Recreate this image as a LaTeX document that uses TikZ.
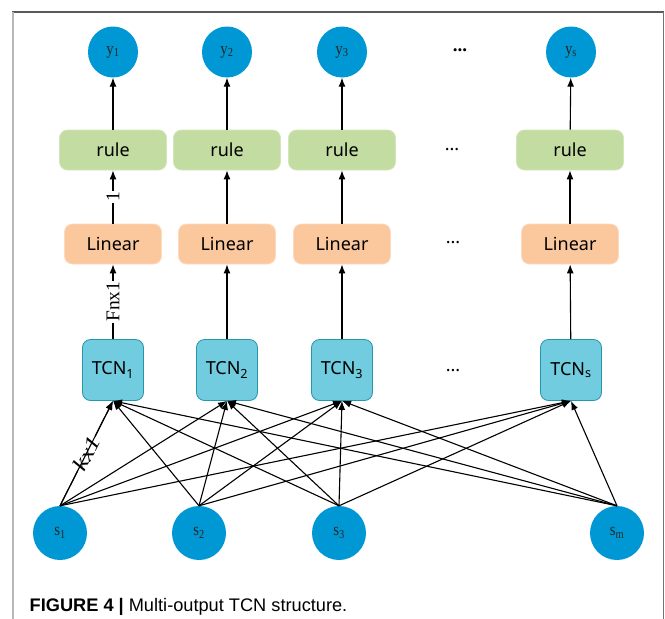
\documentclass[tikz,border=0pt]{standalone}
\usepackage{fontspec}
\usepackage{graphicx}
\setmainfont{Liberation Serif}
\setsansfont{Noto Sans}
\newfontfamily\capfont{Liberation Sans}
\usetikzlibrary{shapes.geometric,arrows.meta}

\definecolor{ioblue}{RGB}{0,152,212}
\definecolor{rulefill}{RGB}{195,220,162}
\definecolor{ruleedge}{RGB}{210,230,185}
\definecolor{linfill}{RGB}{251,199,157}
\definecolor{linedge}{RGB}{253,218,190}
\definecolor{tcnfill}{RGB}{112,204,222}
\definecolor{tcnedge}{RGB}{38,150,170}

% condensed serif used for the variable names
\newcommand{\cond}[1]{\scalebox{0.85}[1]{#1}}
% widened italic used for the kernel label
\newcommand{\wide}[1]{\scalebox{1.25}[1]{#1}}

\tikzset{
  io/.style={ellipse, fill=ioblue, inner sep=0pt, text=black!85,
             font=\fontsize{17.5}{17.5}\selectfont},
  ynode/.style={io, minimum width=50pt, minimum height=51pt},
  snode/.style={io, minimum width=54pt, minimum height=54pt},
  rulebox/.style={rounded corners=8pt, fill=rulefill, draw=ruleedge, line width=0.8pt,
                  minimum width=107pt, minimum height=40pt, inner sep=0pt,
                  font=\sffamily\fontsize{18}{18}\selectfont},
  linbox/.style={rounded corners=8pt, fill=linfill, draw=linedge, line width=0.8pt,
                 minimum width=97pt, minimum height=40pt, inner sep=0pt,
                 font=\sffamily\fontsize{18}{18}\selectfont},
  tcnbox/.style={rounded corners=8pt, fill=tcnfill, draw=tcnedge, line width=0.8pt,
                 minimum width=61pt, minimum height=61pt, inner sep=0pt,
                 font=\sffamily\fontsize{18}{18}\selectfont},
  arr/.style={-{Latex[length=9pt,width=7pt]}, line width=1.1pt},
  elabel/.style={midway, sloped, fill=white, inner sep=1pt,
                 font=\fontsize{19.5}{19.5}\selectfont},
  gap/.style={font=\sffamily\fontsize{18}{18}\selectfont},
}

\begin{document}
\begin{tikzpicture}[x=1pt,y=-1pt]
\useasboundingbox (0,0) rectangle (665,619);

% frame
\draw[black!65, line width=1.2pt] (12,12) -- (663.5,12);
\draw[black!28, line width=2pt] (13,12) -- (13,619);
\draw[black!55, line width=1.2pt] (663.5,12) -- (663.5,619);

% outputs
\node[ynode] (y1) at (113,52) {\cond{y\textsubscript{1}}};
\node[ynode] (y2) at (227,52) {\cond{y\textsubscript{2}}};
\node[ynode] (y3) at (342,52) {\cond{y\textsubscript{3}}};
\node[ynode] (ys) at (571,52) {\cond{y\textsubscript{s}}};
\node[font=\bfseries\fontsize{19}{19}\selectfont] (ydots) at (460,50) {...};

% rule layer
\node[rulebox] (r1) at (113,150) {rule};
\node[rulebox] (r2) at (227,150) {rule};
\node[rulebox] (r3) at (342,150) {rule};
\node[rulebox] (rs) at (570,150) {rule};
\node[gap] (rdots) at (452,150) {...};

% linear layer
\node[linbox] (l1) at (113,244) {Linear};
\node[linbox] (l2) at (227,244) {Linear};
\node[linbox] (l3) at (342,244) {Linear};
\node[linbox] (ls) at (570,244) {Linear};
\node[gap] (ldots) at (453,243) {...};

% TCN layer
\node[tcnbox] (t1) at (113,370) {TCN\textsubscript{1}};
\node[tcnbox] (t2) at (227,370) {TCN\textsubscript{2}};
\node[tcnbox] (t3) at (342,370) {TCN\textsubscript{3}};
\node[tcnbox] (ts) at (571,370) {TCN\textsubscript{s}};
\node[gap] (tdots) at (453,371) {...};

% inputs
\node[snode] (s1) at (60,533) {\cond{s\textsubscript{1}}};
\node[snode] (s2) at (199,533) {\cond{s\textsubscript{2}}};
\node[snode] (s3) at (339,533) {\cond{s\textsubscript{3}}};
\node[snode] (sm) at (617,533) {\cond{s\textsubscript{m}}};

% vertical chains
\draw[arr] (t1) -- node[elabel] {Fnx1} (l1);
\draw[arr] (l1) -- node[elabel] {1} (r1);
\draw[arr] (r1) -- (y1);
\foreach \i in {2,3,s}{
  \draw[arr] (t\i) -- (l\i);
  \draw[arr] (l\i) -- (r\i);
  \draw[arr] (r\i) -- (y\i);
}

% every input feeds every TCN
\draw[arr] (s1.north) -- node[elabel, font=\fontsize{21}{21}\selectfont] {\wide{\textit{kx1}}} (t1.south);
\foreach \s in {1,2,3,m}{
  \foreach \t in {1,2,3,s}{
    \draw[arr] (s\s.north) -- (t\t.south);
  }
}

% caption
\node[anchor=base west, inner sep=0pt, font=\capfont\fontsize{18.2}{18.2}\selectfont] (cap) at (29.5,611)
  {\textbf{FIGURE 4 |} Multi-output TCN structure.};
\end{tikzpicture}
\end{document}
